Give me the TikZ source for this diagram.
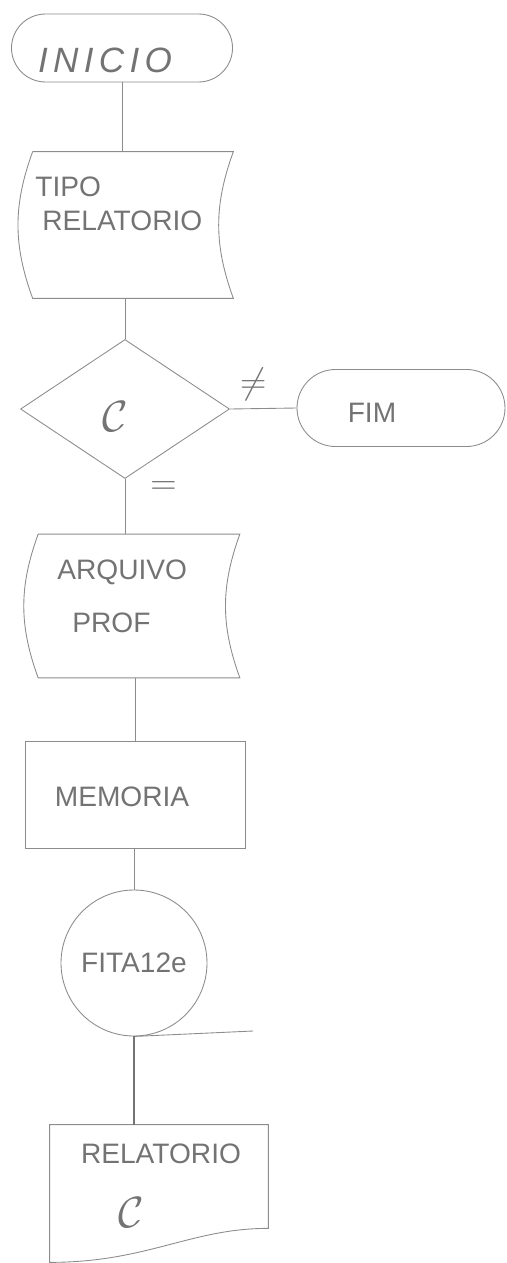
\documentclass[tikz,border=0pt]{standalone}
\usepackage{fontspec}
\newfontfamily\hand{Liberation Sans}
\usetikzlibrary{shapes.geometric}
\usetikzlibrary{shapes.misc}

\definecolor{pencil}{gray}{0.55}
\definecolor{lead}{gray}{0.45}

\tikzset{
  pen/.style={draw=pencil, line width=0.5pt},
  terminal/.style={pen, rounded rectangle, inner sep=0pt},
  decision/.style={pen, diamond, inner sep=0pt},
  process/.style={pen, rectangle, inner sep=0pt},
  storage/.style={rectangle, inner sep=0pt},
  txt/.style={text=lead, font=\hand\fontsize{16}{19}\selectfont, inner sep=0pt},
  sym/.style={text=lead, font=\fontsize{22}{22}\selectfont, inner sep=0pt},
}

\begin{document}
\begin{tikzpicture}
          \useasboundingbox (0,0) rectangle (10.12,-25.26);

          % boxes of the main line
          \node[terminal, minimum width=4.42cm, minimum height=1.36cm] (inicio) at (2.44,-0.96) {};
          \node[storage, minimum width=4cm, minimum height=2.92cm] (tipo) at (2.66,-4.5) {};
          \node[decision, minimum width=4.18cm, minimum height=2.78cm] (teste) at (2.5,-8.18) {};
          \node[terminal, minimum width=4.16cm, minimum height=1.54cm] (fim) at (8.02,-8.16) {};
          \node[storage, minimum width=4.02cm, minimum height=2.86cm] (arquivo) at (2.78,-12.12) {};
          \node[process, minimum width=4.4cm, minimum height=2.14cm] (memoria) at (2.7,-15.9) {};
          \node[pen, circle, txt, minimum size=2.92cm] (fita) at (2.68,-19.26) {FITA12e};
          \node[storage, minimum width=4.36cm, minimum height=2.06cm] (relat) at (3.18,-23.53) {};
          \coordinate (fitafim) at (5.06,-20.62);

          % stored data: both sides bent the same way
          \foreach \b in {tipo, arquivo}
            \draw[pen] (\b.north west) -- (\b.north east) to[bend right=20] (\b.south east)
              -- (\b.south west) to[bend left=20] (\b.north west);

          % document with the wavy foot
          \draw[pen] (relat.north west) -- (relat.north east) -- (relat.south east)
            .. controls +(-1.56,0) and +(1.96,0) .. ([yshift=-0.68cm]relat.south west) -- cycle;

          % texts
          \node[txt, font=\hand\itshape\fontsize{20}{24}\selectfont\addfontfeatures{LetterSpace=15}] (lbinicio) at (2.1,-1.2) {INICIO};
          \node[txt, anchor=north west, align=left] (lbtipo) at (0.7,-3.54) {TIPO\\\hspace*{0.14cm}RELATORIO};
          \node[sym, font=\fontsize{26}{26}\selectfont] (lbteste) at (2.3,-8.34) {$\mathcal{C}$};
          \node[txt] (lbfim) at (7.44,-8.26) {FIM};
          \node[txt, anchor=north west, align=left, font=\hand\fontsize{16}{30}\selectfont] (lbarquivo) at (1.14,-11.2) {ARQUIVO\\\hspace*{0.3cm}PROF};
          \node[txt] (lbmemoria) at (2.44,-15.94) {MEMORIA};
          \node[txt] (lbrelat) at (3.22,-23.08) {RELATORIO};
          \node[sym, font=\fontsize{28}{28}\selectfont] (lbvar) at (2.62,-24.26) {$\mathcal{C}$};

          % connectors
          \draw[pen] (inicio.south) -- (inicio.south |- tipo.north);
          \draw[pen] (teste.north |- tipo.south) -- (teste.north);
          \draw[pen] (teste.east) -- node[pos=0.35, above=0.15cm, sym] (ne) {$\neq$} (fim.west);
          \draw[pen] (teste.south) -- node[pos=0.17, right=0.5cm, sym] (eq) {$=$} (teste.south |- arquivo.north);
          \draw[pen] (memoria.north |- arquivo.south) -- (memoria.north);
          \draw[pen] (fita.north |- memoria.south) -- (fita.north);
          \draw[pen] (fita.south) -- (fitafim);
          \draw[pen, draw=lead, line width=0.9pt] (fita.south) -- (fita.south |- relat.north);
        \end{tikzpicture}
\end{document}
